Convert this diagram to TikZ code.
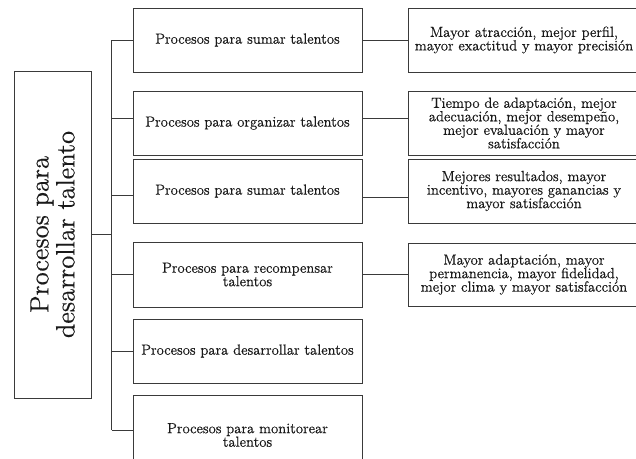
\documentclass[tikz,border=0pt]{standalone}
\usepackage{fontspec}
\newfontfamily\rfont{lmroman12-regular.otf}[FakeBold=0.5]
\usetikzlibrary{calc}
\definecolor{linec}{HTML}{3A3A3A}
\definecolor{txt}{HTML}{1A1A1A}
\begin{document}
\begin{tikzpicture}[x=1pt,y=-1pt,
  box/.style={draw=linec, line width=0.9pt, rectangle, inner sep=0pt, align=center, text=txt,
    font=\rfont\fontsize{14.7}{13.5}\selectfont},
  midbox/.style={box, minimum width=229pt, minimum height=64pt},
  resbox/.style={box, minimum width=232pt, minimum height=64pt},
  conn/.style={draw=linec, line width=0.9pt}]
\useasboundingbox (0,0) rectangle (636,458);
\clip (0,0) rectangle (636,458);
\fill[white] (0,0) rectangle (636,458);
% left box
\node[box, rotate=90, minimum width=327pt, minimum height=77pt,
  font=\rfont\fontsize{26.5}{26}\selectfont] (L) at (52.5,234.5) {Procesos para\\desarrollar talento};
\coordinate (sp) at (111.7,0);
% middle boxes
\node[midbox] (m1) at (247.5,40) {Procesos para sumar talentos};
\node[midbox] (m2) at (247.5,123) {Procesos para organizar talentos};
\node[midbox] (m3) at (247.5,191) {Procesos para sumar talentos};
\node[midbox, minimum height=65pt] (m4) at (247.5,274.5) {Procesos para recompensar\\talentos};
\node[midbox] (m5) at (247.5,351) {Procesos para desarrollar talentos};
\node[midbox, minimum height=80pt] (m6) at (247.5,435) {Procesos para monitorear\\talentos};
% result boxes
\node[resbox] (r1) at (524,40) {Mayor atracción, mejor perfil,\\mayor exactitud y mayor precisión};
\node[resbox] (r2) at (524,123) {Tiempo de adaptación, mejor\\adecuación, mejor desempeño,\\mejor evaluación y mayor\\satisfacción};
\node[resbox] (r3) at (524,191) {Mejores resultados, mayor\\incentivo, mayores ganancias y\\mayor satisfacción};
\node[resbox, minimum height=63pt] (r4) at (524,274.5) {Mayor adaptación, mayor\\permanencia, mayor fidelidad,\\mejor clima y mayor satisfacción};
% branch points
\coordinate (b1) at (m1.west);
\coordinate (b2) at ([yshift=5pt]m2.west);
\coordinate (b3) at ([yshift=-4pt]m3.west);
\coordinate (b4) at (m4.west);
\coordinate (b5) at (m5.west);
\coordinate (b6) at ([yshift=5pt]m6.west);
% tree connectors
\draw[conn] (L.south) -- (L.south -| sp);
\draw[conn] (b1 -| sp) -- (b6 -| sp);
\foreach \b in {b1,b2,b3,b4,b5,b6} \draw[conn] (\b -| sp) -- (\b);
% middle to result
\coordinate (c1) at (m1.east);
\coordinate (c2) at ([yshift=5pt]m2.east);
\coordinate (c3) at ([yshift=-6pt]m3.east);
\coordinate (c4) at (m4.east);
\draw[conn] (c1) -- (c1 -| r1.west);
\draw[conn] (c2) -- (c2 -| r2.west);
\draw[conn] (c3) -- (c3 -| r3.west);
\draw[conn] (c4) -- (c4 -| r4.west);
\end{tikzpicture}
\end{document}
